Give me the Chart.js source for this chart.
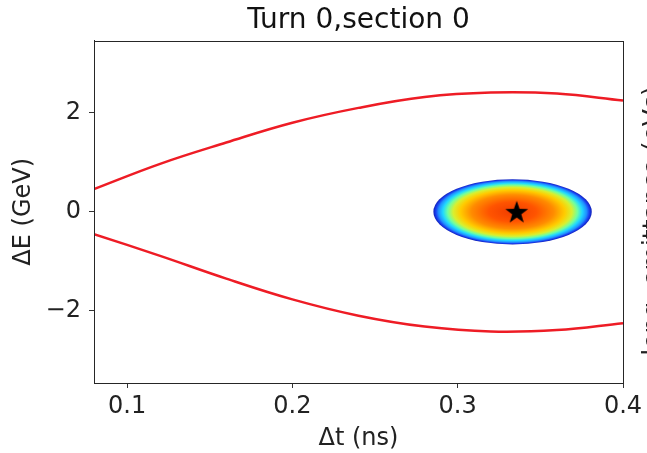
<!DOCTYPE html>
<html>
<head>
<meta charset="utf-8">
<script src="https://cdn.jsdelivr.net/npm/chart.js@4.4.0/dist/chart.umd.min.js"></script>
<style>
  html, body { margin: 0; padding: 0; background: #fff; }
  canvas { display: block; }
</style>
</head>
<body>
<canvas id="myChart" width="647" height="453"></canvas>
<script>
// separatrix (dt in ns, dE in GeV)
var sepT     = [0.08, 0.12, 0.16, 0.20, 0.24, 0.28, 0.32, 0.36, 0.40];
var sepUpper = [0.46, 0.97, 1.40, 1.80, 2.10, 2.32, 2.41, 2.39, 2.25];
var sepLower = [-0.45, -0.89, -1.35, -1.77, -2.10, -2.32, -2.42, -2.39, -2.25];

// bunch: centre and half sizes (ns, GeV)
var bunchCentre = [0.3332, 0.0];
var bunchHalf = [0.0479, 0.66];

// centroid marker
var starT = [0.3357];
var starE = [0.0];

var xTicks = [0.1, 0.2, 0.3, 0.4];
var yTicks = [-2, 0, 2];

function pts(xs, ys) {
    var out = [];
    for (var i = 0; i < xs.length; i++) out.push({ x: xs[i], y: ys[i] });
    return out;
}

// filled 5 point star for the centroid
var starImg = document.createElement('canvas');
starImg.width = 26; starImg.height = 26;
(function () {
    var c = starImg.getContext('2d');
    c.fillStyle = '#000';
    c.beginPath();
    for (var i = 0; i < 10; i++) {
        var r = (i % 2 === 0) ? 12 : 4.8;
        var a = -Math.PI / 2 + i * Math.PI / 5;
        var px = 13 + r * Math.cos(a), py = 14 + r * Math.sin(a);
        if (i === 0) c.moveTo(px, py); else c.lineTo(px, py);
    }
    c.closePath();
    c.fill();
})();

var bunchPlugin = {
    id: 'bunch',
    beforeDatasetsDraw: function (chart) {
        var ctx = chart.ctx, xs = chart.scales.x, ys = chart.scales.y;
        var cx = xs.getPixelForValue(bunchCentre[0]);
        var cy = ys.getPixelForValue(bunchCentre[1]);
        var rx = xs.getPixelForValue(bunchCentre[0] + bunchHalf[0]) - cx;
        var ry = cy - ys.getPixelForValue(bunchCentre[1] + bunchHalf[1]);
        ctx.save();
        ctx.translate(cx, cy);
        ctx.scale(1, ry / rx);
        var g = ctx.createRadialGradient(0, 0, 0, 0, 0, rx);
        g.addColorStop(0, '#f03c00');
        g.addColorStop(0.3, '#ff5400');
        g.addColorStop(0.52, '#ff8c00');
        g.addColorStop(0.66, '#ffcc00');
        g.addColorStop(0.75, '#d8f030');
        g.addColorStop(0.82, '#70ffa0');
        g.addColorStop(0.88, '#20d8ff');
        g.addColorStop(0.935, '#2090ff');
        g.addColorStop(0.97, '#1a40f0');
        g.addColorStop(1, '#1020b8');
        ctx.fillStyle = g;
        ctx.beginPath();
        ctx.arc(0, 0, rx, 0, Math.PI * 2);
        ctx.fill();
        ctx.restore();
    }
};

var framePlugin = {
    id: 'frame',
    beforeDraw: function (chart) {
        var ctx = chart.ctx;
        ctx.save();
        ctx.fillStyle = '#fff';
        ctx.fillRect(0, 0, chart.width, chart.height);
        ctx.restore();
    },
    afterDraw: function (chart) {
        var ctx = chart.ctx, a = chart.chartArea;
        ctx.save();
        ctx.strokeStyle = '#262626';
        ctx.lineWidth = 1;
        ctx.strokeRect(Math.round(a.left) + 0.5, Math.round(a.top) + 0.5,
            Math.round(a.right - a.left), Math.round(a.bottom - a.top));
        // colorbar label, cut by the window edge
        ctx.translate(a.right + 37, 221);
        ctx.rotate(-Math.PI / 2);
        ctx.fillStyle = '#222';
        ctx.font = '25px "DejaVu Sans"';
        ctx.textAlign = 'center';
        ctx.textBaseline = 'alphabetic';
        ctx.fillText('long. emittance (eVs)', 0, 0);
        ctx.restore();
    }
};

var ctx1 = document.getElementById('myChart');

new Chart(ctx1, {
    type: 'scatter',
    data: {
        datasets: [
            {
                type: 'line',
                data: pts(sepT, sepUpper),
                borderColor: '#ee1c25',
                borderWidth: 2.5,
                pointRadius: 0,
                tension: 0.4,
                fill: false
            },
            {
                type: 'line',
                data: pts(sepT, sepLower),
                borderColor: '#ee1c25',
                borderWidth: 2.5,
                pointRadius: 0,
                tension: 0.4,
                fill: false
            },
            {
                data: pts(starT, starE),
                pointStyle: starImg,
                pointRadius: 12
            }
        ]
    },
    options: {
        responsive: false,
        animation: false,
        layout: { padding: { left: 0, right: 24, top: 0, bottom: 0 } },
        plugins: {
            legend: { display: false },
            tooltip: { enabled: false },
            title: {
                display: true,
                fullSize: false,
                text: 'Turn 0,section 0',
                color: '#111',
                font: { family: 'DejaVu Sans', size: 28, weight: 'normal' },
                padding: { top: 4, bottom: 3 }
            }
        },
        scales: {
            x: {
                type: 'linear',
                min: 0.08,
                max: 0.4,
                afterBuildTicks: function (s) { s.ticks = xTicks.map(function (v) { return { value: v }; }); },
                afterFit: function (s) { s.height = 70; },
                grid: { display: true, drawOnChartArea: false, drawTicks: true, tickLength: 5, tickColor: '#333' },
                border: { display: true, color: '#262626' },
                ticks: {
                    autoSkip: false,
                    maxRotation: 0,
                    padding: 4,
                    color: '#222',
                    font: { family: 'DejaVu Sans', size: 24 },
                    callback: function (v) { return v.toFixed(1); }
                },
                title: {
                    display: true,
                    text: 'Δt (ns)',
                    color: '#222',
                    font: { family: 'DejaVu Sans', size: 24 },
                    padding: { top: 0, bottom: 0 }
                }
            },
            y: {
                type: 'linear',
                min: -3.46,
                max: 3.46,
                afterBuildTicks: function (s) { s.ticks = yTicks.map(function (v) { return { value: v }; }); },
                afterFit: function (s) { s.width = 94; },
                grid: { display: true, drawOnChartArea: false, drawTicks: true, tickLength: 5, tickColor: '#333' },
                border: { display: true, color: '#262626' },
                ticks: {
                    padding: 8,
                    color: '#222',
                    font: { family: 'DejaVu Sans', size: 24 },
                    callback: function (v) { return String(v).replace('-', '\u2212'); }
                },
                title: {
                    display: true,
                    text: 'ΔE (GeV)',
                    color: '#222',
                    font: { family: 'DejaVu Sans', size: 24 },
                    padding: { top: 9, bottom: 0 }
                }
            }
        }
    },
    plugins: [bunchPlugin, framePlugin]
});
</script>
</body>
</html>
